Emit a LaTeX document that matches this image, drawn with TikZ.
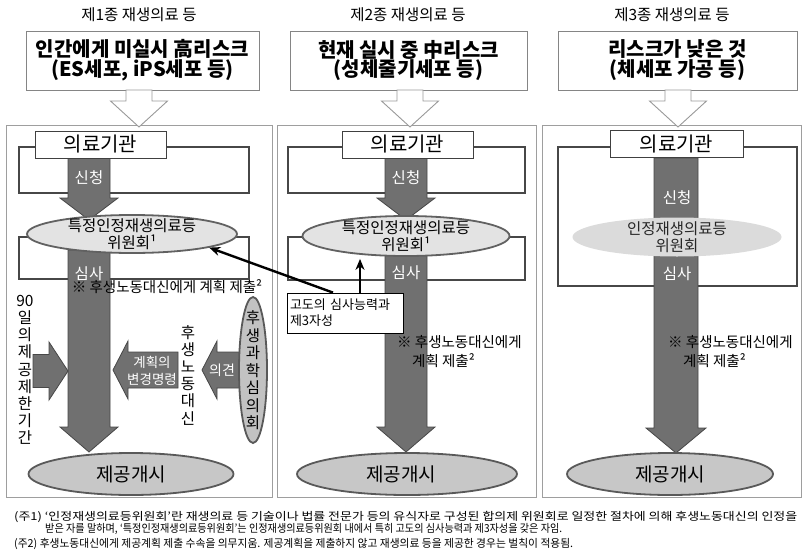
\documentclass[tikz,border=0pt]{standalone}
\usepackage{graphicx}
\usepackage{fontspec}
\setmainfont{Noto Sans CJK KR}
\usetikzlibrary{shapes.geometric,arrows.meta,calc}
\newcommand\fitw[2]{\resizebox{#1}{\height}{#2}}
% down block arrow: style, cx, top, shaft hw, tip y, head hw, head length
\newcommand\dnarrow[7]{\filldraw[#1] ({#2-#4},#3) -- ({#2+#4},#3) -- ({#2+#4},{#5-#7}) -- ({#2+#6},{#5-#7}) -- (#2,#5) -- ({#2-#6},{#5-#7}) -- ({#2-#4},{#5-#7}) -- cycle;}
% horizontal block arrow: style, tip x, cy, head base x, tail x, shaft hw, head hw
\newcommand\hzarrow[7]{\filldraw[#1] (#2,#3) -- (#4,{#3-#7}) -- (#4,{#3-#6}) -- (#5,{#3-#6}) -- (#5,{#3+#6}) -- (#4,{#3+#6}) -- (#4,{#3+#7}) -- cycle;}
\tikzset{
  panel/.style={draw=black!38, line width=1pt},
  topbox/.style={draw=black!48, line width=1pt, fill=white, inner sep=0pt, minimum height=59pt, align=center, font=\bfseries\fontsize{20}{18.5}\selectfont},
  hollow/.style={fill=white, draw=black!40, line width=0.9pt},
  bracket/.style={draw=black!72, line width=1.3pt},
  inst/.style={draw=black!75, fill=white, line width=0.8pt, inner sep=0pt, minimum height=27pt, font=\fontsize{20}{22}\selectfont},
  darr/.style={fill=black!56, draw=black!72, line width=0.8pt},
  lbl/.style={text=white, inner sep=0pt, font=\fontsize{15.5}{17}\selectfont},
  commell/.style={ellipse, fill=black!11, draw=black!62, line width=1.8pt, inner sep=0pt},
  lightell/.style={ellipse, fill=black!14, inner sep=0pt},
  startell/.style={ellipse, fill=black!22, draw=black!65, line width=1.8pt, inner sep=0pt},
  elltext/.style={align=center, inner sep=0pt, font=\fontsize{15.5}{17}\selectfont},
  starttext/.style={inner sep=0pt, font=\fontsize{19}{20}\selectfont},
  head/.style={inner sep=0pt, font=\fontsize{15.5}{17}\selectfont},
  note/.style={inner sep=0pt, align=left, font=\fontsize{14.5}{19}\selectfont},
  vtext/.style={inner sep=0pt, align=center, font=\fontsize{15.5}{17.2}\selectfont},
  foot/.style={inner sep=0pt, anchor=west, font=\fontsize{11}{12}\selectfont},
  callarrow/.style={-{Stealth[length=11pt,width=9pt]}, line width=2.4pt, black},
}
\begin{document}
\begin{tikzpicture}[x=1pt,y=-1pt]
\useasboundingbox (0,0) rectangle (805,554);
\fill[white] (0,0) rectangle (805,554);

% ---------- headings and top boxes ----------
\node[head] (h1) at (139,15) {제1종 재생의료 등};
\node[head] (h2) at (408,15) {제2종 재생의료 등};
\node[head] (h3) at (672,15) {제3종 재생의료 등};

\node[topbox, minimum width=233pt] (t1) at (142.5,60.5) {인간에게 미실시 高리스크\\(ES세포, iPS세포 등)};
\node[topbox, minimum width=237pt] (t2) at (408.5,60.5) {현재 실시 중 中리스크\\(성체줄기세포 등)};
\node[topbox, minimum width=239pt] (t3) at (677.5,60.5) {리스크가 낮은 것\\(체세포 가공 등)};

% ---------- panels ----------
\draw[panel] (6,125) rectangle (272,497);
\draw[panel] (277,125) rectangle (536,497);
\draw[panel] (542,125) rectangle (801,497);

\dnarrow{hollow}{139}{90}{13}{127}{28.5}{26}
\dnarrow{hollow}{410}{90}{13}{127}{28.5}{26}
\dnarrow{hollow}{678}{90}{13}{127}{28.5}{26}

% ---------- panel 1 ----------
\draw[bracket] (19,147) rectangle (249,193);
\draw[bracket] (19,237) rectangle (249,279);
\dnarrow{darr}{89}{158}{21}{220}{29}{22}
\dnarrow{darr}{89}{250}{21}{452}{29}{25}
\node[inst, minimum width=131pt] (i1) at (100.5,144.5) {의료기관};
\node[commell, minimum width=210pt, minimum height=38pt] (e1) at (132,234) {};
\node[elltext] (e1t) at (e1) {특정인정재생의료등\\위원회¹};
\node[lbl] (s1a) at (89,178) {신청};
\node[lbl] (s1b) at (89,274) {심사};
\node[note] (n1) at (167,287) {※ 후생노동대신에게 계획 제출²};

\hzarrow{darr}{68}{371}{49}{33}{16.5}{29}
\hzarrow{darr}{113}{370}{128}{178}{18}{29}
\hzarrow{darr}{202}{370}{217}{240}{18}{29}
\node[lbl, align=center, font=\fontsize{13.5}{17}\selectfont] (chg) at (152,371) {계획의\\변경명령};
\node[lbl, font=\fontsize{14}{17}\selectfont] (op) at (222,370) {의견};
\node[startell, minimum width=28pt, minimum height=146pt, fill=black!24] (sk) at (253,370) {};
\node[vtext, font=\fontsize{15.5}{17.5}\selectfont] (skt) at (253,370.5) {후\\생\\과\\학\\심\\의\\회};
\node[vtext] (mhlw) at (188,375) {후\\생\\노\\동\\대\\신};
\node[vtext] (lim) at (25,370) {90\\일\\의\\제\\공\\제\\한\\기\\간};
\node[startell, minimum width=205pt, minimum height=42pt] (p1) at (131,474) {};
\node[starttext] (p1t) at (p1) {제공개시};

% ---------- panel 2 ----------
\draw[bracket] (288,147) rectangle (525,193);
\draw[bracket] (288,237) rectangle (525,280);
\dnarrow{darr}{406}{158}{21}{220}{29}{22}
\dnarrow{darr}{406}{250}{21}{452}{29}{25}
\node[inst, minimum width=131pt] (i2) at (407.5,144.5) {의료기관};
\node[commell, minimum width=207pt, minimum height=40pt] (e2) at (406,236) {};
\node[elltext] (e2t) at (e2) {특정인정재생의료등\\위원회¹};
\node[lbl] (s2a) at (406,178) {신청};
\node[lbl] (s2b) at (406,273) {심사};
\node[note, anchor=west] (n2) at (397,352) {※ 후생노동대신에게\\\hspace*{15pt}계획 제출²};
\node[startell, minimum width=220pt, minimum height=42pt] (p2) at (407,474) {};
\node[starttext] (p2t) at (401,474) {제공개시};

\node[draw=black, line width=0.8pt, fill=white, align=left, inner sep=3pt, text width=110pt, minimum height=40pt, font=\fontsize{13}{16}\selectfont] (call) at (345,313) {고도의 심사능력과\\제3자성};
\coordinate (ca) at ([xshift=-12pt]call.north);
\coordinate (cb) at ([xshift=15pt]call.north);
\draw[callarrow] (ca) -- (e1.-10);
\draw[callarrow, shorten >=2pt] (cb) -- (cb |- e2.south);

% ---------- panel 3 ----------
\draw[bracket] (558,147) rectangle (797,286);
\dnarrow{darr}{676}{158}{22}{453}{30}{25}
\node[inst, minimum width=133pt] (i3) at (676.5,144) {의료기관};
\node[lightell, minimum width=209pt, minimum height=39pt] (e3) at (677,237) {};
\node[elltext, text=black!85] (e3t) at (e3) {인정재생의료등\\위원회};
\node[lbl] (s3a) at (677,198) {신청};
\node[lbl] (s3b) at (677,274) {심사};
\node[note, anchor=west] (n3) at (668,352) {※ 후생노동대신에게\\\hspace*{15pt}계획 제출²};
\node[startell, minimum width=206pt, minimum height=42pt] (p3) at (670,474) {};
\node[starttext] (p3t) at (p3) {제공개시};

% ---------- footnotes ----------
\node[foot] (f1) at (14,517) {\fitw{783pt}{(주1) ‘인정재생의료등위원회’란 재생의료 등 기술이나 법률 전문가 등의 유식자로 구성된 합의제 위원회로 일정한 절차에 의해 후생노동대신의 인정을}};
\node[foot] (f1b) at (45,529) {\fitw{517pt}{받은 자를 말하며, ‘특정인정재생의료등위원회’는 인정재생의료등위원회 내에서 특히 고도의 심사능력과 제3자성을 갖은 자임.}};
\node[foot] (f2) at (14,544) {\fitw{559pt}{(주2) 후생노동대신에게 제공계획 제출 수속을 의무지움. 제공계획을 제출하지 않고 재생의료 등을 제공한 경우는 벌칙이 적용됨.}};
\end{tikzpicture}
\end{document}
